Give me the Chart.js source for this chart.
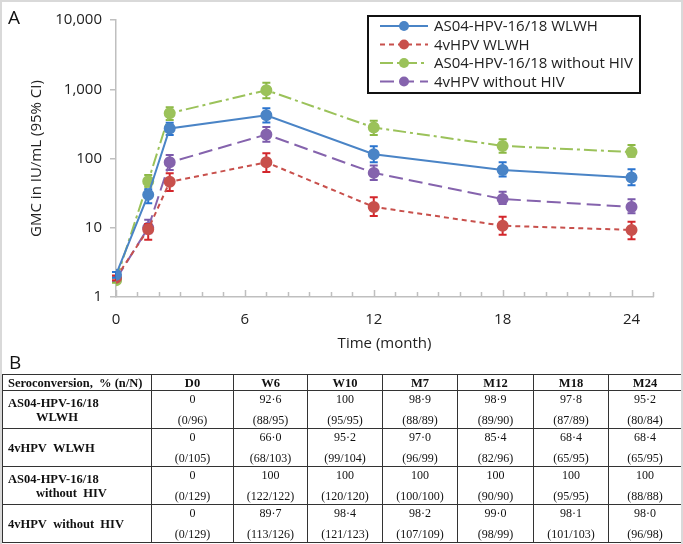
<!DOCTYPE html>
<html>
<head>
<meta charset="utf-8">
<script src="https://cdn.jsdelivr.net/npm/chart.js@4.4.1/dist/chart.umd.min.js"></script>
<style>
  html, body { margin: 0; padding: 0; background: #fff; }
  #pagina { position: relative; width: 683px; height: 544px; overflow: hidden; }
  #grafico { position: absolute; left: 0; top: 0; }
  #marco { position: absolute; left: 0; top: 0; width: 679px; height: 542px; border: 2px solid #d9d9d9; border-bottom: none; pointer-events: none; }
  .letra { position: absolute; font-family: 'Open Sans', sans-serif; font-size: 19px; color: #111; line-height: 1; }
  #tabla { position: absolute; left: 2px; top: 374px; width: 679px; border-collapse: collapse; table-layout: fixed;
           font-family: 'Liberation Serif', 'Times New Roman', serif; font-size: 12px; color: #111; }
  #tabla td, #tabla th { border: 1px solid #333; padding: 0; }
  #tabla th { height: 15px; line-height: 14px; font-weight: bold; text-align: center; font-size: 12.5px; }
  #tabla th.primera { text-align: left; padding-left: 5px; }
  #tabla td { height: 37px; }
  #tabla td.etiqueta { font-weight: bold; padding-left: 5px; line-height: 14px; vertical-align: middle; font-size: 12.5px; }
  #tabla td.etiqueta .sangria { padding-left: 28px; }
  .celda { display: flex; flex-direction: column; justify-content: space-between; align-items: center;
           height: 35px; padding: 1px 0 1px; line-height: 14px; }
</style>
</head>
<body>
<div id="pagina">
  <canvas id="grafico" width="683" height="372"></canvas>
  <div class="letra" style="left:8px; top:8px;">A</div>
  <div class="letra" style="left:9px; top:353px;">B</div>
  <table id="tabla"></table>
  <div id="marco"></div>
</div>
<script>
// tiempo de cada visita (meses)
const meses = [0, 1.5, 2.5, 7, 12, 18, 24];
const ticksX = [0, 6, 12, 18, 24];
const ticksY = [1, 10, 100, 1000, 10000];

// GMC y IC 95%
const as04Wlwh     = [2.1, 30, 272, 420, 115, 68, 53];
const as04WlwhBajo = [1.9, 22.5, 218, 330, 88, 55, 41];
const as04WlwhAlto = [2.3, 36, 329, 530, 150, 88, 70];

const vhpvWlwh     = [1.9, 9.5, 46, 88, 20, 10.7, 9.3];
const vhpvWlwhBajo = [1.75, 6.7, 34, 64, 14.8, 7.9, 6.8];
const vhpvWlwhAlto = [2.05, 11.3, 61, 119, 27.5, 14.4, 12.2];

const as04SinVih     = [1.75, 47, 450, 970, 280, 152, 124];
const as04SinVihBajo = [1.6, 39, 360, 740, 218, 121, 106];
const as04SinVihAlto = [1.9, 58, 548, 1240, 350, 189, 157];

const vhpvSinVih     = [1.8, 10, 88, 222, 62, 26, 20];
const vhpvSinVihBajo = [1.65, 8.3, 68, 175, 49, 22, 16.2];
const vhpvSinVihAlto = [1.95, 13, 112, 285, 79, 33, 25.8];

const etiquetas = ['AS04-HPV-16/18 WLWH', '4vHPV WLWH', 'AS04-HPV-16/18 without HIV', '4vHPV without HIV'];

// tabla B
const columnasTabla = ['D0', 'W6', 'W10', 'M7', 'M12', 'M18', 'M24'];
const filasTabla = [['AS04-HPV-16/18', 'WLWH'], ['4vHPV\u00a0 WLWH'], ['AS04-HPV-16/18', 'without\u00a0 HIV'], ['4vHPV\u00a0 without\u00a0 HIV']];
const pctAs04Wlwh = ['0', '92·6', '100', '98·9', '98·9', '97·8', '95·2'];
const nAs04Wlwh = ['(0/96)', '(88/95)', '(95/95)', '(88/89)', '(89/90)', '(87/89)', '(80/84)'];
const pctVhpvWlwh = ['0', '66·0', '95·2', '97·0', '85·4', '68·4', '68·4'];
const nVhpvWlwh = ['(0/105)', '(68/103)', '(99/104)', '(96/99)', '(82/96)', '(65/95)', '(65/95)'];
const pctAs04SinVih = ['0', '100', '100', '100', '100', '100', '100'];
const nAs04SinVih = ['(0/129)', '(122/122)', '(120/120)', '(100/100)', '(90/90)', '(95/95)', '(88/88)'];
const pctVhpvSinVih = ['0', '89·7', '98·4', '98·2', '99·0', '98·1', '98·0'];
const nVhpvSinVih = ['(0/129)', '(113/126)', '(121/123)', '(107/109)', '(98/99)', '(101/103)', '(96/98)'];

const errores = [
  { bajo: as04WlwhBajo, alto: as04WlwhAlto, color: '#2a74cf' },
  { bajo: vhpvWlwhBajo, alto: vhpvWlwhAlto, color: '#d3262b' },
  { bajo: as04SinVihBajo, alto: as04SinVihAlto, color: '#8cb845' },
  { bajo: vhpvSinVihBajo, alto: vhpvSinVihAlto, color: '#7b5aab' }
];

const fuente = { family: "'Open Sans', sans-serif", size: 15 };

function puntos(valores) {
  return meses.map((m, i) => ({ x: m, y: valores[i] }));
}

function serie(i, valores, color, guiones) {
  return {
    label: etiquetas[i],
    data: puntos(valores),
    borderColor: color,
    backgroundColor: color,
    pointBackgroundColor: color,
    pointBorderColor: color,
    borderWidth: 2,
    borderDash: guiones,
    pointRadius: 5,
    pointHoverRadius: 5,
    tension: 0
  };
}

const barrasError = {
  id: 'barrasError',
  beforeDatasetDraw(chart, args) {
    const e = errores[args.index];
    const { ctx, scales: { x, y } } = chart;
    ctx.save();
    ctx.strokeStyle = e.color;
    ctx.lineWidth = 2;
    ctx.setLineDash([]);
    meses.forEach((m, i) => {
      const px = x.getPixelForValue(m);
      const arriba = y.getPixelForValue(e.alto[i]);
      const abajo = y.getPixelForValue(e.bajo[i]);
      ctx.beginPath();
      ctx.moveTo(px, arriba); ctx.lineTo(px, abajo);
      ctx.moveTo(px - 4, arriba); ctx.lineTo(px + 4, arriba);
      ctx.moveTo(px - 4, abajo); ctx.lineTo(px + 4, abajo);
      ctx.stroke();
    });
    ctx.restore();
  }
};

const marcasX = {
  id: 'marcasX',
  afterDraw(chart) {
    const { ctx, chartArea, scales: { x } } = chart;
    ctx.save();
    ctx.strokeStyle = '#bfbfbf';
    ctx.lineWidth = 1.5;
    for (let m = 0; m <= 25; m++) {
      const px = Math.round(x.getPixelForValue(m)) + 0.5;
      const largo = m % 6 === 0 ? 7 : 5;
      ctx.beginPath();
      ctx.moveTo(px, chartArea.bottom);
      ctx.lineTo(px, chartArea.bottom - largo);
      ctx.stroke();
    }
    ctx.restore();
  }
};

const leyenda = {
  id: 'leyenda',
  afterDraw(chart) {
    const ctx = chart.ctx;
    ctx.save();
    ctx.fillStyle = '#fff';
    ctx.fillRect(368, 16, 272, 77);
    ctx.lineWidth = 2;
    ctx.strokeStyle = '#111';
    ctx.strokeRect(368, 16, 272, 77);
    ctx.font = "15px 'Open Sans', sans-serif";
    ctx.textBaseline = 'middle';
    chart.data.datasets.forEach((ds, i) => {
      const y = 26 + i * 18.5;
      ctx.strokeStyle = ds.borderColor;
      ctx.lineWidth = 2;
      ctx.setLineDash(ds.borderDash || []);
      ctx.beginPath();
      ctx.moveTo(380, y); ctx.lineTo(428, y);
      ctx.stroke();
      ctx.setLineDash([]);
      ctx.fillStyle = ds.pointBackgroundColor;
      ctx.beginPath();
      ctx.arc(404, y, 5, 0, Math.PI * 2);
      ctx.fill();
      ctx.fillStyle = '#222';
      ctx.fillText(ds.label, 434, y + 1);
    });
    ctx.restore();
  }
};

new Chart(document.getElementById('grafico'), {
  type: 'line',
  data: {
    datasets: [
      serie(0, as04Wlwh, '#4a84c6', []),
      serie(1, vhpvWlwh, '#c8504c', [5, 4]),
      serie(2, as04SinVih, '#9bc25a', [13, 4, 3, 4]),
      serie(3, vhpvSinVih, '#8563ad', [14, 6])
    ]
  },
  options: {
    responsive: false,
    animation: false,
    layout: { padding: { left: 0, top: 20, right: 30, bottom: 0 } },
    plugins: { legend: { display: false }, tooltip: { enabled: false } },
    scales: {
      x: {
        type: 'linear',
        min: 0,
        max: 25,
        afterBuildTicks: s => { s.ticks = ticksX.map(v => ({ value: v })); },
        afterFit: s => { s.height = 75; },
        grid: { display: false },
        border: { color: '#bfbfbf', width: 1.5 },
        ticks: { padding: 6, font: fuente, color: '#222', maxRotation: 0 },
        title: { display: true, text: 'Time (month)', font: fuente, color: '#222', padding: { top: 0, bottom: 19 } }
      },
      y: {
        type: 'logarithmic',
        min: 1,
        max: 10000,
        afterBuildTicks: s => { s.ticks = ticksY.map(v => ({ value: v })); },
        afterFit: s => { s.width = 116; },
        grid: { drawOnChartArea: false, tickLength: 6, color: '#bfbfbf', lineWidth: 1.5 },
        border: { color: '#bfbfbf', width: 1.5 },
        ticks: { padding: 8, font: fuente, color: '#222', callback: v => v.toLocaleString('en-US') },
        title: { display: true, text: 'GMC in IU/mL (95% CI)', font: fuente, color: '#222', padding: { top: 28, bottom: 0 } }
      }
    }
  },
  plugins: [barrasError, marcasX, leyenda]
});

// tabla de seroconversión
function construirTabla() {
  const tabla = document.getElementById('tabla');
  const anchos = [149, 82, 74, 75, 75, 76, 75, 73];
  let html = '<colgroup>' + anchos.map(a => `<col style="width:${a}px">`).join('') + '</colgroup>';
  html += '<tr><th class="primera">Seroconversion,&nbsp; % (n/N)</th>' + columnasTabla.map(c => `<th>${c}</th>`).join('') + '</tr>';
  const pcts = [pctAs04Wlwh, pctVhpvWlwh, pctAs04SinVih, pctVhpvSinVih];
  const ns = [nAs04Wlwh, nVhpvWlwh, nAs04SinVih, nVhpvSinVih];
  filasTabla.forEach((lineas, f) => {
    const etiqueta = lineas.map((l, k) => `<div class="${k > 0 ? 'sangria' : ''}">${l}</div>`).join('');
    html += `<tr><td class="etiqueta">${etiqueta}</td>`;
    pcts[f].forEach((p, c) => {
      html += `<td><div class="celda"><span>${p}</span><span>${ns[f][c]}</span></div></td>`;
    });
    html += '</tr>';
  });
  tabla.innerHTML = html;
}
construirTabla();
</script>
</body>
</html>
